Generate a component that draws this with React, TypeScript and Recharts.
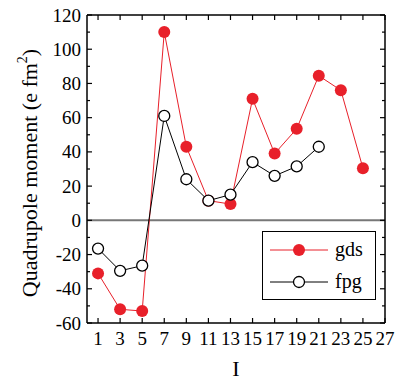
import * as React from 'react';
import {Line, LineChart, ReferenceLine, XAxis, YAxis} from 'recharts';

const spins = [1, 3, 5, 7, 9, 11, 13, 15, 17, 19, 21, 23, 25];
const gds = [-31, -52, -53, 110, 43, 11.5, 9.5, 71, 39, 53.5, 84.5, 76, 30.5];
const fpg = [-16.5, -29.5, -26.5, 61, 24, 11.5, 15, 34, 26, 31.5, 43, null, null];
const xTicks = [1, 3, 5, 7, 9, 11, 13, 15, 17, 19, 21, 23, 25, 27];
const yTicks = [-60, -50, -40, -30, -20, -10, 0, 10, 20, 30, 40, 50, 60, 70, 80, 90, 100, 110, 120];

const FONT = 'Liberation Serif, DejaVu Serif, serif';
const RED = '#e8202a';

type Row = {I: number; gds: number | null; fpg: number | null};
const data: Row[] = spins.map((s, i) => ({I: s, gds: gds[i], fpg: fpg[i]}));

const BottomTick = (props: any) => {
    const {x, y, payload} = props;
    return (
        <g>
            <line x1={x} x2={x} y1={y} y2={y - 5} stroke="#000" strokeWidth={1.2} />
            <text x={x} y={y + 22} textAnchor="middle" fontFamily={FONT} fontSize={19} fill="#000">
                {payload.value}
            </text>
        </g>
    );
};

const TopTick = (props: any) => {
    const {x, y} = props;
    return <line x1={x} x2={x} y1={y} y2={y + 5} stroke="#000" strokeWidth={1.2} />;
};

const LeftTick = (props: any) => {
    const {x, y, payload} = props;
    const major = payload.value % 20 === 0;
    return (
        <g>
            <line x1={x} x2={x + (major ? 5 : 3)} y1={y} y2={y} stroke="#000" strokeWidth={1.2} />
            {major && (
                <text x={x - 6} y={y + 6.5} textAnchor="end" fontFamily={FONT} fontSize={19} fill="#000">
                    {payload.value}
                </text>
            )}
        </g>
    );
};

const RightTick = (props: any) => {
    const {x, y, payload} = props;
    const major = payload.value % 20 === 0;
    return <line x1={x} x2={x - (major ? 5 : 3)} y1={y} y2={y} stroke="#000" strokeWidth={1.2} />;
};

const LegendBox = () => (
    <svg width={114} height={69} style={{display: 'block'}}>
        <rect x={0.5} y={0.5} width={113} height={68} fill="#fff" stroke="#000" strokeWidth={1} />
        <line x1={8} x2={66} y1={19} y2={19} stroke={RED} strokeWidth={1} />
        <circle cx={37} cy={19} r={6} fill={RED} />
        <text x={73} y={25} fontFamily={FONT} fontSize={20} fill="#000">gds</text>
        <line x1={8} x2={66} y1={51} y2={51} stroke="#000" strokeWidth={1} />
        <circle cx={37} cy={51} r={5.5} fill="#fff" stroke="#000" strokeWidth={1.3} />
        <text x={73} y={57} fontFamily={FONT} fontSize={20} fill="#000">fpg</text>
    </svg>
);

const YLabel = () => (
    <text
        transform="translate(37, 173) rotate(-90)"
        textAnchor="middle"
        fontFamily={FONT}
        fontSize={22}
        fill="#000">
        Quadrupole moment (e fm
        <tspan fontSize={14} dy={-10}>2</tspan>
        <tspan dy={10}>)</tspan>
    </text>
);

const XLabel = () => (
    <text x={236} y={376} textAnchor="middle" fontFamily={FONT} fontSize={22} fill="#000">
        I
    </text>
);

export default function App() {
    return (
        <div style={{position: 'absolute', left: 0, top: 0, width: 398, height: 380, background: '#fff'}}>
            <LineChart
                width={398}
                height={380}
                data={data}
                margin={{top: 14, right: 12, left: 0, bottom: 0}}>
                <XAxis
                    dataKey="I"
                    type="number"
                    domain={[0, 27]}
                    ticks={xTicks}
                    interval={0}
                    tickSize={0}
                    tickMargin={0}
                    tickLine={false}
                    tick={<BottomTick />}
                    height={57}
                    stroke="#000"
                    strokeWidth={1.5}
                    allowDataOverflow
                    label={{content: () => <XLabel />}}
                />
                <XAxis
                    xAxisId="t"
                    orientation="top"
                    dataKey="I"
                    type="number"
                    domain={[0, 27]}
                    ticks={xTicks}
                    interval={0}
                    tickSize={0}
                    tickMargin={0}
                    tickLine={false}
                    tick={<TopTick />}
                    height={1}
                    stroke="#000"
                    strokeWidth={1.5}
                    allowDataOverflow
                />
                <YAxis
                    type="number"
                    domain={[-60, 120]}
                    ticks={yTicks}
                    interval={0}
                    tickSize={0}
                    tickMargin={0}
                    tickLine={false}
                    tick={<LeftTick />}
                    width={87}
                    stroke="#000"
                    strokeWidth={1.5}
                    allowDataOverflow
                    label={{content: () => <YLabel />}}
                />
                <YAxis
                    yAxisId="r"
                    orientation="right"
                    type="number"
                    domain={[-60, 120]}
                    ticks={yTicks}
                    interval={0}
                    tickSize={0}
                    tickMargin={0}
                    tickLine={false}
                    tick={<RightTick />}
                    width={1}
                    stroke="#000"
                    strokeWidth={1.5}
                    allowDataOverflow
                />
                <ReferenceLine y={0} stroke="#777" strokeWidth={2} />
                <Line
                    dataKey="gds"
                    stroke={RED}
                    strokeWidth={1}
                    dot={{r: 6, fill: RED, stroke: RED, strokeWidth: 0}}
                    activeDot={false}
                    isAnimationActive={false}
                />
                <Line
                    dataKey="fpg"
                    stroke="#000"
                    strokeWidth={1}
                    dot={{r: 5.5, fill: '#fff', stroke: '#000', strokeWidth: 1.3}}
                    activeDot={false}
                    isAnimationActive={false}
                />
                <Line
                    xAxisId="t"
                    yAxisId="r"
                    dataKey="fpg"
                    stroke="none"
                    dot={false}
                    activeDot={false}
                    legendType="none"
                    isAnimationActive={false}
                />
            </LineChart>
            <div style={{position: 'absolute', left: 262, top: 231}}>
                <LegendBox />
            </div>
        </div>
    );
}
